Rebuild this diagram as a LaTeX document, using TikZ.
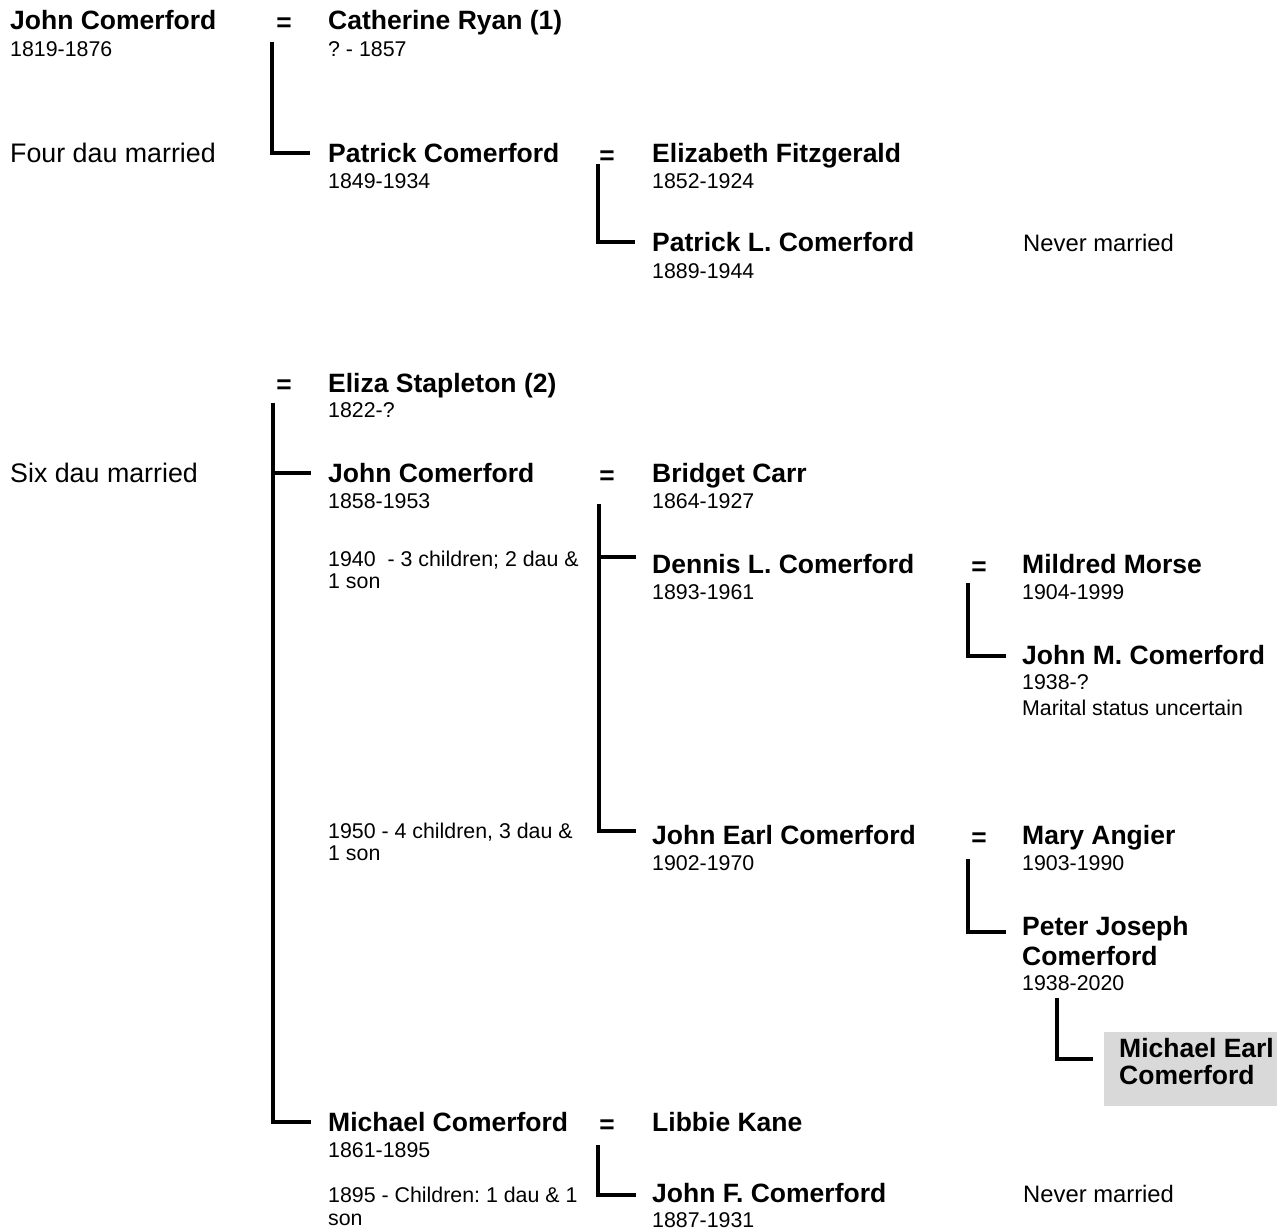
\documentclass[tikz,border=0pt]{standalone}
\usepackage{fontspec}
\setmainfont{Liberation Sans}
\definecolor{boxgray}{HTML}{D9D9D9}
\frenchspacing
\begin{document}
\begin{tikzpicture}[x=1pt,y=-1pt,
 nm/.style={anchor=base west, inner sep=0pt, font=\bfseries\fontsize{26.5}{30}\selectfont},
 dt/.style={anchor=base west, inner sep=0pt, font=\fontsize{21.35}{24}\selectfont},
 note/.style={anchor=base west, inner sep=0pt, font=\fontsize{26.8}{30}\selectfont},
 status/.style={anchor=base west, inner sep=0pt, font=\fontsize{23.8}{27}\selectfont},
 eq/.style={anchor=base, inner sep=0pt, font=\bfseries\fontsize{26.3}{30}\selectfont},
 bracket/.style={line width=4.5pt, line join=miter},
 hibox/.style={fill=boxgray, inner sep=0pt, anchor=north west},
]
\useasboundingbox (0,0) rectangle (1277,1231);

% first marriage
\node[nm] (jc1) at (10,30) {John Comerford};
\node[dt] (jc1d) at (10,56.5) {1819-1876};
\node[eq] (eq1) at (284,32) {=};
\node[nm] (cr) at (328,30) {Catherine Ryan (1)};
\node[dt] (crd) at (328,56.5) {? - 1857};
\node[note] (fdm) at (10,162) {Four dau married};
\node[nm] (pc) at (328,162) {Patrick Comerford};
\node[dt] (pcd) at (328,188) {1849-1934};
\node[eq] (eq2) at (607,164) {=};
\node[nm] (ef) at (652,162) {Elizabeth Fitzgerald};
\node[dt] (efd) at (652,188) {1852-1924};
\node[nm] (plc) at (652,251.5) {Patrick L. Comerford};
\node[dt] (plcd) at (652,278) {1889-1944};
\node[status] (nm1) at (1023,251) {Never married};

% second marriage
\node[eq] (eq3) at (284,393) {=};
\node[nm] (es) at (328,392) {Eliza Stapleton (2)};
\node[dt] (esd) at (328,417) {1822-?};
\node[note] (sdm) at (10,482) {Six dau married};
\node[nm] (jc2) at (328,482) {John Comerford};
\node[dt] (jc2d) at (328,508.5) {1858-1953};
\node[eq] (eq4) at (607,484) {=};
\node[nm] (bc) at (652,482) {Bridget Carr};
\node[dt] (bcd) at (652,508.5) {1864-1927};
\node[dt] (n1940a) at (328,566) {1940\ \ - 3 children; 2 dau \&};
\node[dt] (n1940b) at (328,588) {1 son};
\node[nm] (dlc) at (652,573) {Dennis L. Comerford};
\node[dt] (dlcd) at (652,599.5) {1893-1961};
\node[eq] (eq5) at (979,575) {=};
\node[nm] (mm) at (1022,573) {Mildred Morse};
\node[dt] (mmd) at (1022,599.5) {1904-1999};
\node[nm] (jmc) at (1022,664) {John M. Comerford};
\node[dt] (jmcd) at (1022,689) {1938-?};
\node[dt] (jmcs) at (1022,715) {Marital status uncertain};
\node[dt] (n1950a) at (328,838) {1950 - 4 children, 3 dau \&};
\node[dt] (n1950b) at (328,860) {1 son};
\node[nm] (jec) at (652,844) {John Earl Comerford};
\node[dt] (jecd) at (652,870) {1902-1970};
\node[eq] (eq6) at (979,846) {=};
\node[nm] (ma) at (1022,844) {Mary Angier};
\node[dt] (mad) at (1022,870) {1903-1990};
\node[nm] (pjc1) at (1022,935) {Peter Joseph};
\node[nm] (pjc2) at (1022,965) {Comerford};
\node[dt] (pjcd) at (1022,990) {1938-2020};
\node[hibox, minimum width=173pt, minimum height=74pt] (mebox) at (1104,1032) {};
\node[nm] (me1) at (1119,1057) {Michael Earl};
\node[nm] (me2) at (1119,1084) {Comerford};
\node[nm] (mc) at (328,1131) {Michael Comerford};
\node[dt] (mcd) at (328,1157) {1861-1895};
\node[eq] (eq7) at (607,1133) {=};
\node[nm] (lk) at (652,1131) {Libbie Kane};
\node[dt] (n1895a) at (328,1202) {1895 - Children: 1 dau \& 1};
\node[dt] (n1895b) at (328,1225) {son};
\node[nm] (jfc) at (652,1202) {John F. Comerford};
\node[dt] (jfcd) at (652,1227) {1887-1931};
\node[status] (nm2) at (1023,1202) {Never married};

% brackets
\coordinate (a0) at (272,42);   \coordinate (a1) at (310,153);
\coordinate (b0) at (598,164);  \coordinate (b1) at (635,242);
\coordinate (c0) at (273,403);  \coordinate (c1) at (311,1122);
\coordinate (cm) at (273,473);  \coordinate (cn) at (311,473);
\coordinate (d0) at (599,504);  \coordinate (d1) at (636,831);
\coordinate (dm) at (599,557);  \coordinate (dn) at (636,557);
\coordinate (e0) at (968,583);  \coordinate (e1) at (1006,656);
\coordinate (f0) at (968,859);  \coordinate (f1) at (1006,932);
\coordinate (g0) at (1057,998); \coordinate (g1) at (1093,1059);
\coordinate (h0) at (598,1145); \coordinate (h1) at (636,1195);

\draw[bracket] (a0) |- (a1);
\draw[bracket] (b0) |- (b1);
\draw[bracket] (c0) |- (c1);
\draw[bracket] (cm) -- (cn);
\draw[bracket] (d0) |- (d1);
\draw[bracket] (dm) -- (dn);
\draw[bracket] (e0) |- (e1);
\draw[bracket] (f0) |- (f1);
\draw[bracket] (g0) |- (g1);
\draw[bracket] (h0) |- (h1);
\end{tikzpicture}
\end{document}
